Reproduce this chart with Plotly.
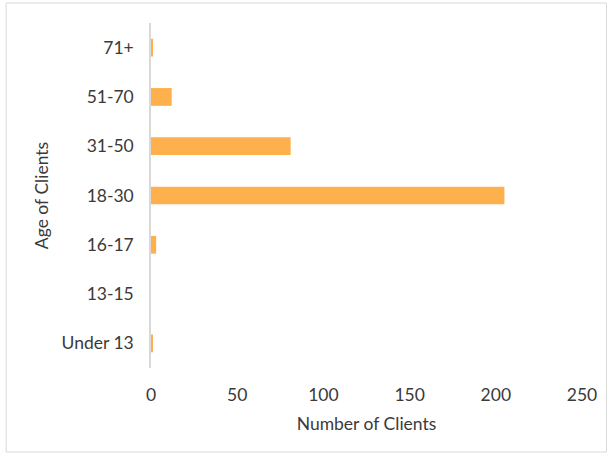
import plotly.graph_objects as go

categories = ["Under 13", "13-15", "16-17", "18-30", "31-50", "51-70", "71+"]
clients = [1, 0, 3, 205, 81, 12, 1]
x_ticks = [0, 50, 100, 150, 200, 250]

W, H = 610, 455
L, R, T, B = 151, 27.5, 23, 87
pw, ph = W - L - R, H - T - B

fig = go.Figure(go.Bar(
    y=categories, x=clients, orientation="h",
    marker=dict(color="#FDB04B", line=dict(width=0)),
    width=0.36,
))

font = dict(family="Lato, 'Open Sans', sans-serif", size=17.5, color="#3A3A3A")

fig.update_layout(
    width=W, height=H,
    margin=dict(l=L, r=R, t=T, b=B),
    paper_bgcolor="white", plot_bgcolor="white",
    font=font,
    showlegend=False,
    xaxis=dict(
        range=[0, 250], tickvals=x_ticks, showgrid=False, zeroline=False,
        showline=False, ticks="", ticklabelstandoff=14,
        title=dict(text="Number of Clients", standoff=14, font=font),
        tickfont=font, fixedrange=True,
    ),
    yaxis=dict(
        categoryorder="array", categoryarray=categories,
        range=[-0.5, 6.5],
        showgrid=False, zeroline=False, showline=True, linecolor="#D9D9D9",
        linewidth=1.5, ticks="", ticklabelstandoff=12,
        title=dict(text="Age of Clients", standoff=8, font=font),
        tickfont=font, fixedrange=True,
    ),
)

# outer light frame
fig.add_shape(
    type="rect", xref="paper", yref="paper",
    x0=(6 - L) / pw, x1=(607 - L) / pw,
    y0=(H - B - 452) / ph, y1=(H - B - 3) / ph,
    line=dict(color="#D9D9D9", width=1), fillcolor="rgba(0,0,0,0)",
    layer="below",
)

fig.write_html("out.html", config={"displayModeBar": False},
               post_script="document.body.style.margin='0';")
